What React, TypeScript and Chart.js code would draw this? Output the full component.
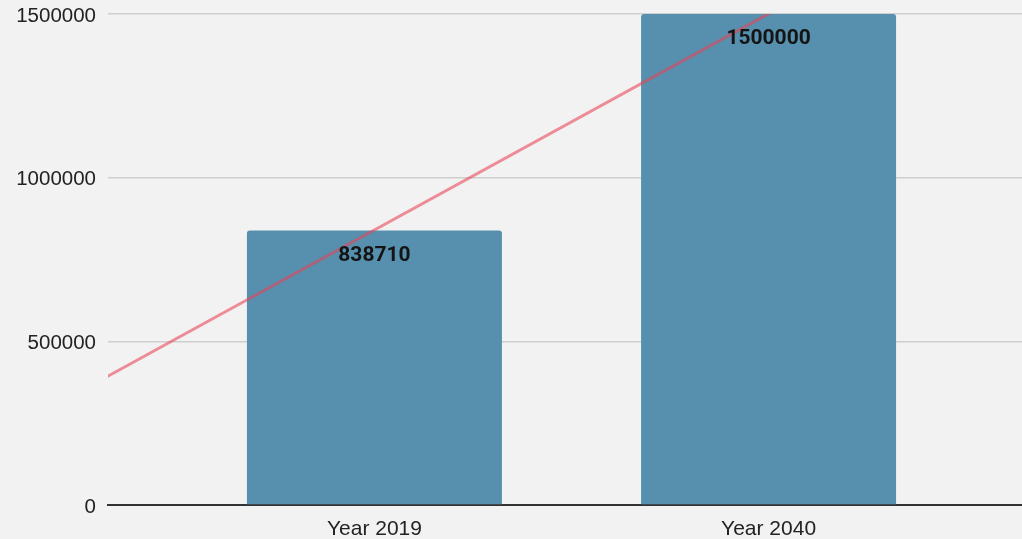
import React, { useEffect, useRef } from "react";
import { Chart, registerables } from "chart.js";

Chart.register(...registerables);

const CATEGORIES = ["Year 2019", "Year 2040"];
const CATEGORY_POS = [0, 1];
const VALUES = [838710, 1500000];
const TREND_X = [-0.68, 2];
const TREND_Y = [391000, 2161290];
const Y_TICKS = [0, 500000, 1000000, 1500000];

const BG = "#f2f2f2";
const BAR = "#5790ae";

const labelPlugin = {
  id: "barLabels",
  afterDatasetsDraw(chart: any) {
    const meta = chart.getDatasetMeta(0);
    const ctx = chart.ctx;
    ctx.save();
    ctx.font = "bold 21px Roboto";
    ctx.fillStyle = "#141414";
    ctx.textAlign = "center";
    ctx.textBaseline = "middle";
    meta.data.forEach((el: any, i: number) => {
      ctx.fillText(String(VALUES[i]), el.x, el.y + 25);
    });
    ctx.restore();
  },
};

const bgPlugin = {
  id: "bg",
  beforeDraw(chart: any) {
    const ctx = chart.ctx;
    ctx.save();
    ctx.fillStyle = BG;
    ctx.fillRect(0, 0, chart.width, chart.height);
    ctx.restore();
  },
};

export default function App() {
  const ref = useRef<HTMLCanvasElement>(null);
  useEffect(() => {
    if (!ref.current) return;
    const chart = new Chart(ref.current, {
      type: "bar",
      data: {
        datasets: [
          {
            type: "bar",
            data: CATEGORY_POS.map((x, i) => ({ x, y: VALUES[i] })),
            backgroundColor: BAR,
            borderRadius: { topLeft: 3, topRight: 3, bottomLeft: 0, bottomRight: 0 },
            borderSkipped: "bottom",
            barPercentage: 0.647,
            categoryPercentage: 1,
            order: 2,
          } as any,
          {
            type: "line",
            data: TREND_X.map((x, i) => ({ x, y: TREND_Y[i] })),
            borderColor: "rgba(232, 66, 84, 0.58)",
            borderWidth: 3,
            pointRadius: 0,
            fill: false,
            order: 1,
          } as any,
        ],
      },
      options: {
        animation: false,
        responsive: true,
        maintainAspectRatio: false,
        layout: { padding: { top: 14, right: 0, left: 0, bottom: 0 } },
        plugins: {
          legend: { display: false },
          tooltip: { enabled: false },
        },
        scales: {
          x: {
            type: "linear",
            offset: false,
            min: -0.676,
            max: 1.643,
            afterBuildTicks: (scale: any) => {
              scale.ticks = CATEGORY_POS.map((v) => ({ value: v }));
            },
            afterFit: (scale: any) => {
              scale.height = 34;
              scale.paddingLeft = 0;
              scale.paddingRight = 0;
            },
            ticks: {
              autoSkip: false,
              maxRotation: 0,
              padding: 12,
              color: "#222",
              font: { family: "'Liberation Sans', Arial", size: 21 },
              callback: (v: any) => {
                const i = CATEGORY_POS.indexOf(Number(v));
                return i >= 0 ? CATEGORIES[i] : "";
              },
            },
            grid: { display: false, drawTicks: false, offset: false },
            border: { display: true, color: "#333", width: 2 },
          },
          y: {
            min: 0,
            max: 1500000,
            afterBuildTicks: (scale: any) => {
              scale.ticks = Y_TICKS.map((v) => ({ value: v }));
            },
            afterFit: (scale: any) => {
              scale.width = 108;
              scale.paddingTop = 0;
              scale.paddingBottom = 0;
            },
            ticks: {
              padding: 12,
              labelOffset: 2,
              color: "#222",
              font: { family: "'Liberation Sans', Arial", size: 20.5 },
              callback: (v: any) => String(v),
            },
            grid: {
              drawTicks: false,
              color: (c: any) => (c.tick && c.tick.value === 0 ? "rgba(0,0,0,0)" : "#cfcfcf"),
              lineWidth: 1.5,
            },
            border: { display: false },
          },
        },
      },
      plugins: [bgPlugin, labelPlugin],
    });
    return () => chart.destroy();
  }, []);
  return (
    <div
      style={{
        position: "fixed",
        left: 0,
        top: 0,
        width: 1022,
        height: 539,
        background: BG,
      }}
    >
      <canvas ref={ref} />
    </div>
  );
}
